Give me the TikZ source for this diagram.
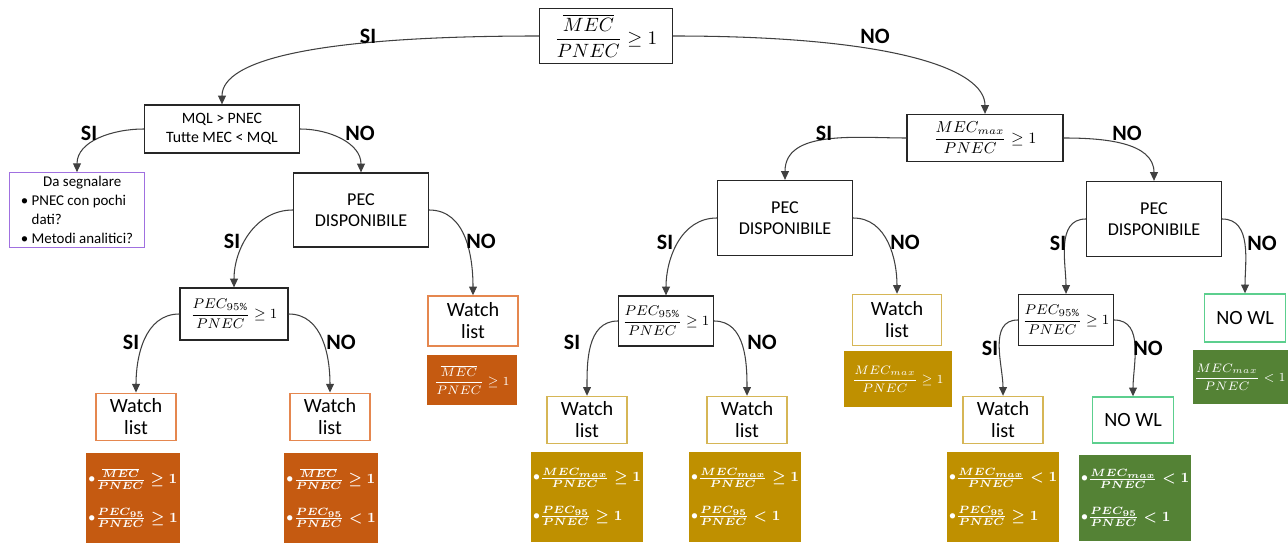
\documentclass[tikz,border=0pt]{standalone}
\usepackage{fontspec}
\setmainfont{Carlito}
\usepackage{amsmath}
\usetikzlibrary{arrows.meta}
\definecolor{edgegray}{HTML}{404040}
\definecolor{orfill}{HTML}{C55A11}
\definecolor{orline}{HTML}{E5874F}
\definecolor{gdfill}{HTML}{BF9000}
\definecolor{gdline}{HTML}{D6B656}
\definecolor{grfill}{HTML}{548235}
\definecolor{grline}{HTML}{5CCF8E}
\definecolor{prline}{HTML}{A070E0}

\begin{document}
\begin{tikzpicture}[x=0.02cm,y=-0.02cm,
    >={Triangle[length=5pt,width=4.5pt]},
    test/.style={draw=black!85,line width=0.7pt,fill=white,align=center,inner sep=1pt},
    wlbox/.style={draw=#1,line width=0.8pt,fill=white,align=center,inner sep=1pt,
      minimum width=1.6cm,minimum height=0.95cm,font=\fontsize{11.5}{12.5}\selectfont},
    resbox/.style={fill=#1,text=white,align=left,inner sep=1pt,minimum height=1.8cm,
      font=\fontsize{8.5}{22}\selectfont\boldmath},
    onebox/.style={fill=#1,text=white,align=center,inner sep=1pt,
      font=\fontsize{7.5}{10}\selectfont},
    lbl/.style={font=\fontsize{12.5}{14}\selectfont\bfseries},
    link/.style={->,draw=edgegray,line width=0.6pt}]
  \useasboundingbox (0,0) rectangle (1288,543);

  % top test
  \node[test,minimum width=2.66cm,minimum height=1.1cm,font=\fontsize{10.5}{12}\selectfont]
    (root) at (606,36) {$\dfrac{\overline{MEC}}{PNEC}\geq 1$};

  % left branch
  \node[test,minimum width=3.1cm,minimum height=0.96cm,font=\fontsize{9}{10.8}\selectfont]
    (mql) at (222,129) {MQL > PNEC\\Tutte MEC < MQL};
  \node[draw=prline,line width=0.7pt,fill=white,align=left,inner sep=2pt,
    minimum width=2.7cm,minimum height=1.48cm,font=\fontsize{8.5}{10.8}\selectfont]
    (segn) at (77,210) {\hspace*{1.5em}Da segnalare\\\textbullet\ PNEC con pochi\\
    \phantom{\textbullet\ }dati?\\\textbullet\ Metodi analitici?};
  \node[test,minimum width=2.7cm,minimum height=1.48cm,font=\fontsize{10.3}{12.3}\selectfont]
    (pecL) at (361,210) {PEC\\DISPONIBILE};
  \node[test,minimum width=2.16cm,minimum height=1.04cm,font=\fontsize{8}{9}\selectfont]
    (p95L) at (234,314) {$\dfrac{PEC_{95\%}}{PNEC}\geq 1$};
  \node[wlbox=orline,minimum width=1.8cm,minimum height=1cm] (wlL) at (473,321) {Watch\\list};
  \node[onebox=orfill,minimum width=1.8cm,minimum height=1.02cm] (resL) at (472,380)
    {$\dfrac{\overline{MEC}}{PNEC}\geq 1$};
  \node[wlbox=orline] (wlLA) at (136,417) {Watch\\list};
  \node[wlbox=orline] (wlLB) at (330,417) {Watch\\list};
  \node[resbox=orfill,minimum width=1.82cm] (resLA) at (133,498)
    {\textbullet$\frac{\overline{MEC}}{PNEC}\geq 1$\\\textbullet$\frac{PEC_{95}}{PNEC}\geq 1$};
  \node[resbox=orfill,minimum width=1.78cm] (resLB) at (331,498)
    {\textbullet$\frac{\overline{MEC}}{PNEC}\geq 1$\\\textbullet$\frac{PEC_{95}}{PNEC}< 1$};

  % right branch
  \node[test,minimum width=3.12cm,minimum height=0.94cm,font=\fontsize{9}{10}\selectfont]
    (mecmax) at (985,138) {$\dfrac{MEC_{max}}{PNEC}\geq 1$};
  \node[test,minimum width=2.7cm,minimum height=1.5cm,font=\fontsize{10.3}{12.3}\selectfont]
    (pecM) at (785,218) {PEC\\DISPONIBILE};
  \node[test,minimum width=2.7cm,minimum height=1.5cm,font=\fontsize{10.3}{12.3}\selectfont]
    (pecR) at (1154,219) {PEC\\DISPONIBILE};
  \node[test,minimum width=1.9cm,minimum height=1cm,font=\fontsize{8}{9}\selectfont]
    (p95M) at (666,321) {$\dfrac{PEC_{95\%}}{PNEC}\geq 1$};
  \node[wlbox=gdline,minimum width=1.78cm,minimum height=1.02cm] (wlM) at (897,320) {Watch\\list};
  \node[onebox=gdfill,minimum width=2.16cm,minimum height=1.12cm] (resM) at (898,379)
    {$\dfrac{MEC_{max}}{PNEC}\geq 1$};
  \node[wlbox=gdline,minimum height=0.94cm] (wlMA) at (587,420) {Watch\\list};
  \node[wlbox=gdline,minimum height=0.94cm] (wlMB) at (747,420) {Watch\\list};
  \node[resbox=gdfill,minimum width=2.14cm] (resMA) at (587,497)
    {\textbullet$\frac{MEC_{max}}{PNEC}\geq 1$\\\textbullet$\frac{PEC_{95}}{PNEC}\geq 1$};
  \node[resbox=gdfill,minimum width=2.14cm] (resMB) at (745,497)
    {\textbullet$\frac{MEC_{max}}{PNEC}\geq 1$\\\textbullet$\frac{PEC_{95}}{PNEC}< 1$};
  \node[test,minimum width=1.9cm,minimum height=1.02cm,font=\fontsize{8}{9}\selectfont]
    (p95R) at (1066,320) {$\dfrac{PEC_{95\%}}{PNEC}\geq 1$};
  \node[wlbox=grline,minimum width=1.62cm,minimum height=0.96cm] (nowlR) at (1245,318) {NO WL};
  \node[onebox=grfill,minimum width=1.9cm,minimum height=1.1cm,font=\fontsize{7}{9}\selectfont]
    (resR) at (1240,377) {$\dfrac{MEC_{max}}{PNEC}< 1$};
  \node[wlbox=gdline,minimum height=0.94cm] (wlRA) at (1003,420) {Watch\\list};
  \node[wlbox=grline,minimum width=1.62cm,minimum height=0.92cm] (nowlRB) at (1133,420) {NO WL};
  \node[resbox=gdfill,minimum width=2.18cm] (resRA) at (1003,497)
    {\textbullet$\frac{MEC_{max}}{PNEC}< 1$\\\textbullet$\frac{PEC_{95}}{PNEC}\geq 1$};
  \node[resbox=grfill,minimum width=2.1cm,minimum height=1.74cm] (resRB) at (1135,498)
    {\textbullet$\frac{MEC_{max}}{PNEC}< 1$\\\textbullet$\frac{PEC_{95}}{PNEC}< 1$};

  % connectors
  \draw[link] (root.west) .. controls +(-220,0) and +(0,-45) .. (mql.north);
  \draw[link] (root.east) .. controls +(220,0) and +(0,-45) .. (mecmax.north);
  \draw[link] (mql.west) to[out=180,in=90] (segn.north);
  \draw[link] (mql.east) to[out=0,in=90] (pecL.north);
  \draw[link] (pecL.west) to[out=180,in=90] (p95L.north);
  \draw[link] (pecL.east) to[out=0,in=90] (wlL.north);
  \draw[link] (p95L.west) to[out=180,in=90] (wlLA.north);
  \draw[link] (p95L.east) to[out=0,in=90] (wlLB.north);
  \draw[link] (mecmax.west) to[out=180,in=90] (pecM.north);
  \draw[link] (mecmax.east) to[out=0,in=90] (pecR.north);
  \draw[link] (pecM.west) to[out=180,in=90] (p95M.north);
  \draw[link] (pecM.east) to[out=0,in=90] (wlM.north);
  \draw[link] (p95M.west) to[out=180,in=90] (wlMA.north);
  \draw[link] (p95M.east) to[out=0,in=90] (wlMB.north);
  \draw[link] (pecR.west) to[out=180,in=90] (p95R.north);
  \draw[link] (pecR.east) to[out=0,in=90] (nowlR.north);
  \draw[link] (p95R.west) to[out=180,in=90] (wlRA.north);
  \draw[link] (p95R.east) to[out=0,in=90] (nowlRB.north);

  % branch labels
  \node[lbl] (si0) at (368,36) {SI};
  \node[lbl] (no0) at (875,36) {NO};
  \node[lbl] (si1) at (89,133) {SI};
  \node[lbl] (no1) at (360,133) {NO};
  \node[lbl] (si2) at (232,241) {SI};
  \node[lbl] (no2) at (481,241) {NO};
  \node[lbl] (si3) at (131,342) {SI};
  \node[lbl] (no3) at (341,342) {NO};
  \node[lbl] (si4) at (824,133) {SI};
  \node[lbl] (no4) at (1127,133) {NO};
  \node[lbl] (si5) at (665,242) {SI};
  \node[lbl] (no5) at (905,242) {NO};
  \node[lbl] (si6) at (572,342) {SI};
  \node[lbl] (no6) at (762,342) {NO};
  \node[lbl] (si7) at (1058,243) {SI};
  \node[lbl] (no7) at (1262,243) {NO};
  \node[lbl] (si8) at (990,348) {SI};
  \node[lbl] (no8) at (1148,348) {NO};
\end{tikzpicture}
\end{document}
